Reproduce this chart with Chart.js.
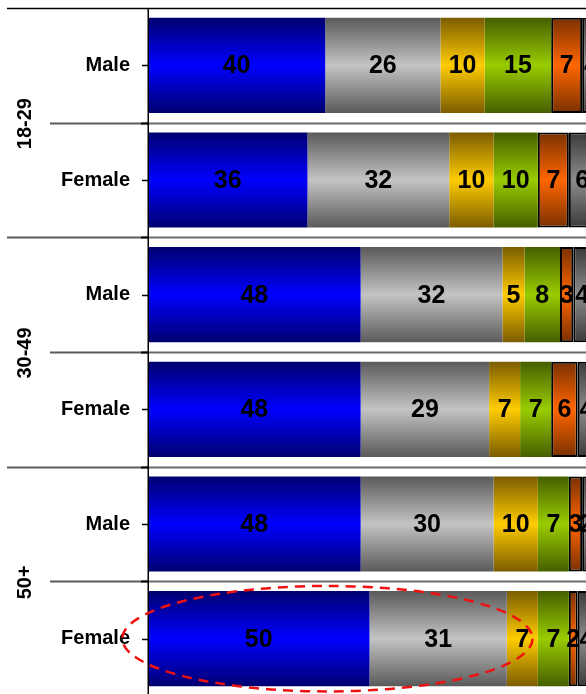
<!DOCTYPE html>
<html><head><meta charset="utf-8">
<style>
html,body{margin:0;padding:0;overflow:hidden;background:#fff;width:586px;height:694px}
#wrap{position:relative;width:610px;height:700px}
</style>
<script src="https://cdn.jsdelivr.net/npm/chart.js@4/dist/chart.umd.min.js"></script>
</head><body><div id="wrap"><canvas id="c" width="610" height="700"></canvas></div>
<script>
// ---- data ----
const categories = ['Male','Female','Male','Female','Male','Female'];
const ageGroups = ['18-29','30-49','50+'];
const seriesBlue   = [40,36,48,48,48,50];
const seriesGrey   = [26,32,32,29,30,31];
const seriesYellow = [10,10,5,7,10,7];
const seriesGreen  = [15,10,8,7,7,7];
const seriesOrange = [7,7,3,6,3,2];
const seriesDark   = [4,6,4,4,2,4];

// ---- styling ----
const FONT = '"Liberation Sans", Arial, Helvetica, sans-serif';
const BAR_PCT = 0.83;

function grad(dark, light){
  return (c)=>{
    const chart = c.chart, y = chart.scales.y;
    if(!y || c.dataIndex === undefined || !isFinite(y.top)) return light;
    const mid = y.getPixelForValue(c.dataIndex);
    const band = (y.bottom - y.top) / categories.length;
    const h = band * BAR_PCT / 2;
    const g = chart.ctx.createLinearGradient(0, mid - h, 0, mid + h);
    g.addColorStop(0, dark); g.addColorStop(0.5, light); g.addColorStop(1, dark);
    return g;
  };
}

function ds(data, dark, light, bordered){
  return {
    data, backgroundColor: grad(dark, light),
    borderColor: '#000', borderWidth: bordered ? 2 : 0, borderSkipped: false,
    categoryPercentage: 1, barPercentage: BAR_PCT
  };
}

const decorations = {
  id: 'decorations',
  beforeDatasetsDraw(chart){
    const ctx = chart.ctx, y = chart.scales.y, a = chart.chartArea;
    const W = chart.width;
    ctx.save();
    // top border line
    ctx.strokeStyle = '#000'; ctx.lineWidth = 1.5;
    ctx.beginPath(); ctx.moveTo(7, a.top + 0.5); ctx.lineTo(W, a.top + 0.5); ctx.stroke();
    // separators between categories
    for(let i = 0; i < categories.length - 1; i++){
      const yb = Math.round((y.getPixelForValue(i) + y.getPixelForValue(i+1)) / 2) + 0.5;
      const start = (i % 2 === 1) ? 7 : 50;
      ctx.strokeStyle = '#5a5a5a'; ctx.lineWidth = 2;
      ctx.beginPath(); ctx.moveTo(start, yb); ctx.lineTo(a.left, yb); ctx.stroke();
      ctx.strokeStyle = '#6a6a6a';
      ctx.beginPath(); ctx.moveTo(a.left, yb); ctx.lineTo(W, yb); ctx.stroke();
      ctx.strokeStyle = '#000'; ctx.lineWidth = 2;
      ctx.beginPath(); ctx.moveTo(a.left - 7, yb); ctx.lineTo(a.left, yb); ctx.stroke();
    }
    // center ticks
    ctx.strokeStyle = '#000'; ctx.lineWidth = 1.5;
    for(let i = 0; i < categories.length; i++){
      const yc = Math.round(y.getPixelForValue(i)) + 0.5;
      ctx.beginPath(); ctx.moveTo(a.left - 6, yc); ctx.lineTo(a.left, yc); ctx.stroke();
    }
    // group labels
    ctx.fillStyle = '#000'; ctx.font = 'bold 20px ' + FONT;
    ctx.textAlign = 'center'; ctx.textBaseline = 'middle';
    ageGroups.forEach((g, k)=>{
      const yc = (y.getPixelForValue(2*k) + y.getPixelForValue(2*k+1)) / 2;
      ctx.save(); ctx.translate(25, yc + 1); ctx.rotate(-Math.PI/2);
      ctx.fillText(g, 0, 0); ctx.restore();
    });
    ctx.restore();
  },
  afterDatasetsDraw(chart){
    const ctx = chart.ctx, a = chart.chartArea;
    ctx.save();
    // value labels
    ctx.font = 'bold 25px ' + FONT; ctx.fillStyle = '#000';
    ctx.textAlign = 'center'; ctx.textBaseline = 'middle';
    chart.data.datasets.forEach((d, i)=>{
      chart.getDatasetMeta(i).data.forEach((el, j)=>{
        ctx.fillText(String(d.data[j]), (el.x + el.base) / 2, el.y + 1);
      });
    });
    // axis line
    ctx.strokeStyle = '#000'; ctx.lineWidth = 1.5;
    ctx.beginPath(); ctx.moveTo(a.left + 0.25, a.top); ctx.lineTo(a.left + 0.25, chart.height); ctx.stroke();
    // red dashed ellipse annotation around the last row
    const x = chart.scales.x, y = chart.scales.y;
    const cx = x.getPixelForValue(40.5), rx = x.getPixelForValue(46.3) - x.getPixelForValue(0);
    const band = (y.bottom - y.top) / categories.length;
    const cy = y.getPixelForValue(5), ry = band * 0.46;
    ctx.strokeStyle = '#ee1111'; ctx.lineWidth = 2.5; ctx.setLineDash([10, 7]);
    ctx.beginPath(); ctx.ellipse(cx, cy, rx, ry, 0, 0, Math.PI * 2); ctx.stroke();
    ctx.restore();
  }
};

new Chart(document.getElementById('c'), {
  type: 'bar',
  data: {
    labels: categories,
    datasets: [
      ds(seriesBlue,   '#000070', '#0000ff', false),
      ds(seriesGrey,   '#5a5a5a', '#c4c4c4', false),
      ds(seriesYellow, '#7a5c00', '#ffcc00', false),
      ds(seriesGreen,  '#455f00', '#99cc00', false),
      ds(seriesOrange, '#7a3000', '#ff6600', true),
      ds(seriesDark,   '#3a3a3a', '#8c8c8c', true)
    ]
  },
  options: {
    indexAxis: 'y', responsive: false, animation: false,
    layout: { padding: { left: 0, top: 8, right: 19, bottom: 4 } },
    plugins: { legend: { display: false }, tooltip: { enabled: false }, title: { display: false } },
    scales: {
      x: { stacked: true, min: 0, max: 100, display: false },
      y: {
        stacked: true,
        grid: { display: false, drawTicks: false },
        border: { display: false },
        ticks: { color: '#000', padding: 18, font: { family: FONT, size: 20, weight: 'bold' } },
        afterFit(s){ s.width = 148; s.paddingTop = 0; s.paddingBottom = 0; }
      }
    }
  },
  plugins: [decorations]
});
</script>
</body></html>
